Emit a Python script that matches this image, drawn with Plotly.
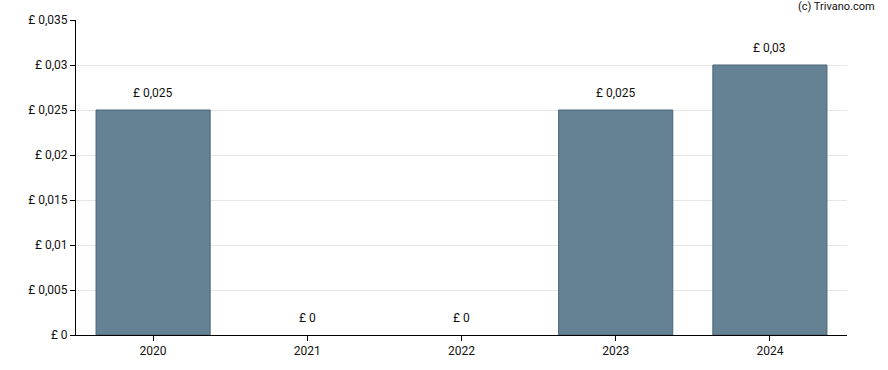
import plotly.graph_objects as go

years = ["2020", "2021", "2022", "2023", "2024"]
dividends = [0.025, 0.0, 0.0, 0.025, 0.03]
bar_labels = ["£ 0,025", "£ 0", "£ 0", "£ 0,025", "£ 0,03"]
y_tick_vals = [0, 0.005, 0.01, 0.015, 0.02, 0.025, 0.03, 0.035]
y_tick_text = ["£ 0", "£ 0,005", "£ 0,01", "£ 0,015", "£ 0,02", "£ 0,025", "£ 0,03", "£ 0,035"]

FONT = "Roboto, Arial, sans-serif"

fig = go.Figure()
fig.add_trace(go.Bar(
    x=years, y=dividends,
    marker=dict(color="#658294",
                line=dict(color="#4a6479", width=[1 if v > 0 else 0 for v in dividends])),
    hoverinfo="skip",
))

for i, (v, lab) in enumerate(zip(dividends, bar_labels)):
    fig.add_annotation(x=i, y=v, text=lab, showarrow=False,
                       yanchor="bottom", yshift=8,
                       font=dict(family=FONT, size=12, color="#111"))

fig.add_annotation(xref="paper", yref="paper", x=1.039, y=1.0, yshift=5,
                   xanchor="right", yanchor="bottom",
                   text="(c) Trivano.com", showarrow=False,
                   font=dict(family=FONT, size=11, color="#111"))

fig.update_layout(
    width=888, height=370,
    margin=dict(l=76, r=41, t=20, b=35),
    plot_bgcolor="white", paper_bgcolor="white",
    showlegend=False,
    font=dict(family=FONT, size=12, color="#111"),
    bargap=0.26,
)
fig.update_xaxes(
    type="category", range=[-0.5, 4.5],
    showline=True, linecolor="black", linewidth=1,
    ticks="outside", ticklen=5, tickcolor="black",
    showgrid=False, tickfont=dict(family=FONT, size=12),
)
fig.update_yaxes(
    range=[0, 0.035], tickvals=y_tick_vals, ticktext=y_tick_text,
    showline=True, linecolor="black", linewidth=1,
    ticks="outside", ticklen=5, tickcolor="black",
    showgrid=True, gridcolor="#e6e6e6", gridwidth=1,
    zeroline=False, tickfont=dict(family=FONT, size=12),
)

fig.write_html("out.html", config={"displayModeBar": False},
               post_script="document.body.style.margin='0';document.body.style.overflow='hidden';")
